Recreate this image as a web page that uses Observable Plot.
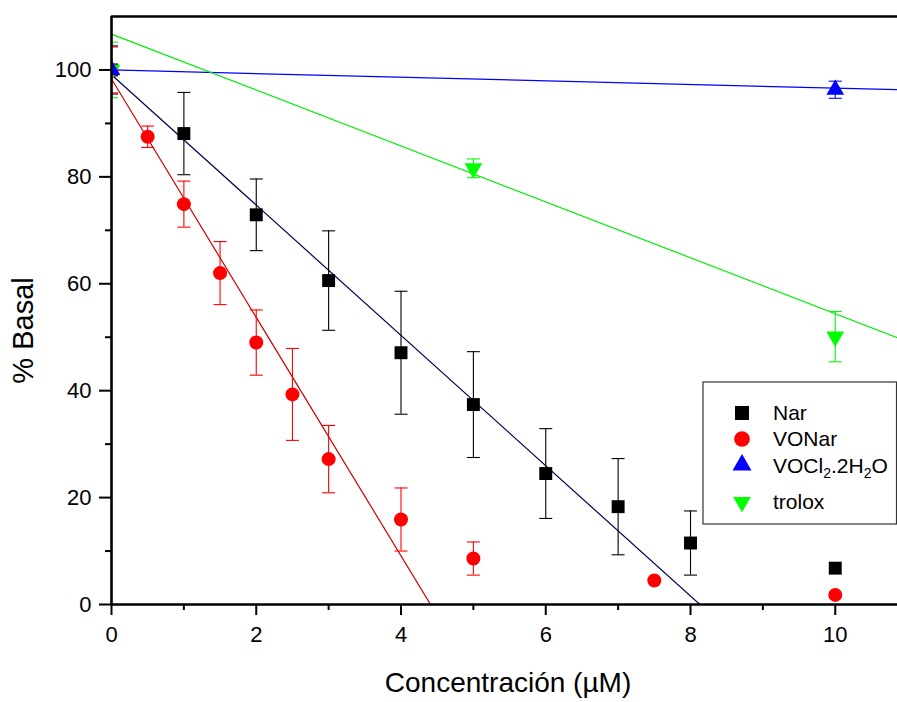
<!DOCTYPE html>
<html>
<head>
<meta charset="utf-8">
<script src="https://cdn.jsdelivr.net/npm/d3@7"></script>
<script src="https://cdn.jsdelivr.net/npm/@observablehq/plot@0.6"></script>
<style>
  html, body { margin: 0; padding: 0; background: #fff; }
  #chart svg { display: block; }
</style>
</head>
<body>
<div id="chart"></div>
<script>
// ---- data ----
const seriesNames = ["Nar", "VONar", "VOCl2.2H2O", "trolox"];
const seriesColors = ["#000000", "#ff0000", "#0000ff", "#00ff00"];
const fitColors = ["#000050", "#cc0000", "#0000ff", "#00ee00"];

const narX = [0, 1, 2, 3, 4, 5, 6, 7, 8, 10];
const narY = [100, 88.1, 72.9, 60.6, 47.1, 37.4, 24.5, 18.3, 11.5, 6.8];
const narErr = [4.5, 7.7, 6.7, 9.3, 11.5, 9.9, 8.4, 9.0, 6.0, 0];

const vonarX = [0, 0.5, 1, 1.5, 2, 2.5, 3, 4, 5, 7.5, 10];
const vonarY = [100, 87.5, 74.9, 62.0, 49.0, 39.3, 27.2, 15.9, 8.6, 4.5, 1.8];
const vonarErr = [4.3, 2.0, 4.3, 5.9, 6.1, 8.6, 6.3, 5.9, 3.1, 0, 0];

const voclX = [0, 10];
const voclY = [100, 96.3];
const voclErr = [0, 1.6];

const troloxX = [0, 5, 10];
const troloxY = [100, 81.6, 50.1];
const troloxErr = [5.2, 1.75, 4.7];

// linear fits (intercept, slope) per series
const fitIntercepts = [99.1, 98.3, 100.0, 106.7];
const fitSlopes = [-12.19, -22.3, -0.34, -5.23];

const xTicks = [0, 2, 4, 6, 8, 10];
const xMinorTicks = [1, 3, 5, 7, 9];
const yTicks = [0, 20, 40, 60, 80, 100];
const yMinorTicks = [10, 30, 50, 70, 90];
const xDomain = [0, 10.86];
const yDomain = [0, 110];

// ---- build tables ----
const seriesData = [
  [narX, narY, narErr],
  [vonarX, vonarY, vonarErr],
  [voclX, voclY, voclErr],
  [troloxX, troloxY, troloxErr]
];
const points = [];
seriesData.forEach(([xs, ys, es], i) => {
  xs.forEach((x, j) => points.push({series: seriesNames[i], idx: i, x, y: ys[j], err: es[j]}));
});
const errPoints = points.filter(d => d.err > 0);

const fitLines = [];
fitIntercepts.forEach((b, i) => {
  const m = fitSlopes[i];
  let xEnd = xDomain[1];
  if (m < 0 && b / -m < xEnd) xEnd = b / -m;
  fitLines.push({series: seriesNames[i], idx: i, x: 0, y: b});
  fitLines.push({series: seriesNames[i], idx: i, x: xEnd, y: b + m * xEnd});
});

// custom symbols
const capSymbol = {
  draw(ctx, size) {
    const w = Math.sqrt(size / Math.PI);
    ctx.moveTo(-w, 0);
    ctx.lineTo(w, 0);
  }
};
const triangleDown = {
  draw(ctx, size) {
    const y = -Math.sqrt(size / (Math.sqrt(3) * 3));
    ctx.moveTo(0, -y * 2);
    ctx.lineTo(-Math.sqrt(3) * y, y);
    ctx.lineTo(Math.sqrt(3) * y, y);
    ctx.closePath();
  }
};
const symbols = ["square", "circle", "triangle", triangleDown];
const radii = [7.3, 7, 6.6, 6.6];

const marks = [];
// fit lines
seriesNames.forEach((s, i) => {
  marks.push(Plot.line(fitLines.filter(d => d.idx === i), {x: "x", y: "y", stroke: fitColors[i], strokeWidth: 1.2, clip: true}));
});
// order: Nar, VONar, trolox, VOCl2
[0, 1, 3, 2].forEach(i => {
  const ep = errPoints.filter(d => d.idx === i);
  marks.push(Plot.ruleX(ep, {x: "x", y1: d => d.y - d.err, y2: d => d.y + d.err, stroke: seriesColors[i], strokeWidth: 1.1, clip: true}));
  marks.push(Plot.dot(ep, {x: "x", y: d => d.y + d.err, symbol: capSymbol, r: 6.5, stroke: seriesColors[i], fill: "none", strokeWidth: 1.1, clip: true}));
  marks.push(Plot.dot(ep, {x: "x", y: d => d.y - d.err, symbol: capSymbol, r: 6.5, stroke: seriesColors[i], fill: "none", strokeWidth: 1.1, clip: true}));
  marks.push(Plot.dot(points.filter(d => d.idx === i), {x: "x", y: "y", symbol: symbols[i], r: radii[i], fill: seriesColors[i], stroke: "none", clip: true}));
});

// axes
marks.push(
  Plot.axisX({ticks: xTicks, tickSize: 11, tickPadding: 11, strokeWidth: 2, label: null}),
  Plot.axisX({ticks: xMinorTicks, tickSize: 6, tickFormat: () => "", strokeWidth: 2, label: null}),
  Plot.axisY({ticks: yTicks, tickSize: 12, tickPadding: 8, strokeWidth: 2, label: null}),
  Plot.axisY({ticks: yMinorTicks, tickSize: 6, tickFormat: () => "", strokeWidth: 2, label: null}),
  Plot.ruleY([yDomain[0]], {strokeWidth: 2.6}),
  Plot.ruleY([yDomain[1]], {strokeWidth: 2.6}),
  Plot.ruleX([xDomain[0]], {strokeWidth: 2.6})
);

const chart = Plot.plot({
  width: 897,
  height: 702,
  marginLeft: 111,
  marginRight: 0,
  marginTop: 16,
  marginBottom: 98,
  style: {fontFamily: "'Liberation Sans', Arial, sans-serif", color: "#000", background: "#fff"},
  x: {domain: xDomain, label: null},
  y: {domain: yDomain, label: null},
  marks
});

// titles and legend
const svg = d3.select(chart);
const font = "'Liberation Sans', Arial, sans-serif";
svg.selectAll("text").attr("font-size", 22).style("font-size", "22px");

svg.append("text")
  .attr("x", 508).attr("y", 691.5)
  .attr("text-anchor", "middle")
  .attr("font-family", font).attr("font-size", 28).attr("fill", "#000")
  .text("Concentración (\u00B5M)");
svg.append("text")
  .attr("transform", "translate(33,330.5) rotate(-90)")
  .attr("text-anchor", "middle")
  .attr("font-family", font).attr("font-size", 29).attr("fill", "#000")
  .text("% Basal");

const lg = svg.append("g");
lg.append("rect")
  .attr("x", 703).attr("y", 382).attr("width", 193.5).attr("height", 142)
  .attr("fill", "#fff").attr("stroke", "#333").attr("stroke-width", 1.2);
const legendSym = [d3.symbolSquare, d3.symbolCircle, d3.symbolTriangle, triangleDown];
const legendSize = [196, 194, 156, 136];
const legendSymY = [413, 439, 465, 502];
const legendTextY = [419.5, 446, 473, 508.5];
seriesNames.forEach((s, i) => {
  lg.append("path")
    .attr("transform", `translate(742,${legendSymY[i]})`)
    .attr("d", d3.symbol().type(legendSym[i]).size(legendSize[i])())
    .attr("fill", seriesColors[i]);
  const t = lg.append("text")
    .attr("x", 773).attr("y", legendTextY[i])
    .attr("text-anchor", "start")
    .attr("font-family", font).attr("font-size", 21).attr("fill", "#000");
  if (s === "VOCl2.2H2O") {
    t.append("tspan").text("VOCl");
    t.append("tspan").attr("font-size", 14).attr("dy", 5).text("2");
    t.append("tspan").attr("dy", -5).text(".2H");
    t.append("tspan").attr("font-size", 14).attr("dy", 5).text("2");
    t.append("tspan").attr("dy", -5).text("O");
  } else {
    t.text(s);
  }
});

document.getElementById("chart").appendChild(chart);
</script>
</body>
</html>
